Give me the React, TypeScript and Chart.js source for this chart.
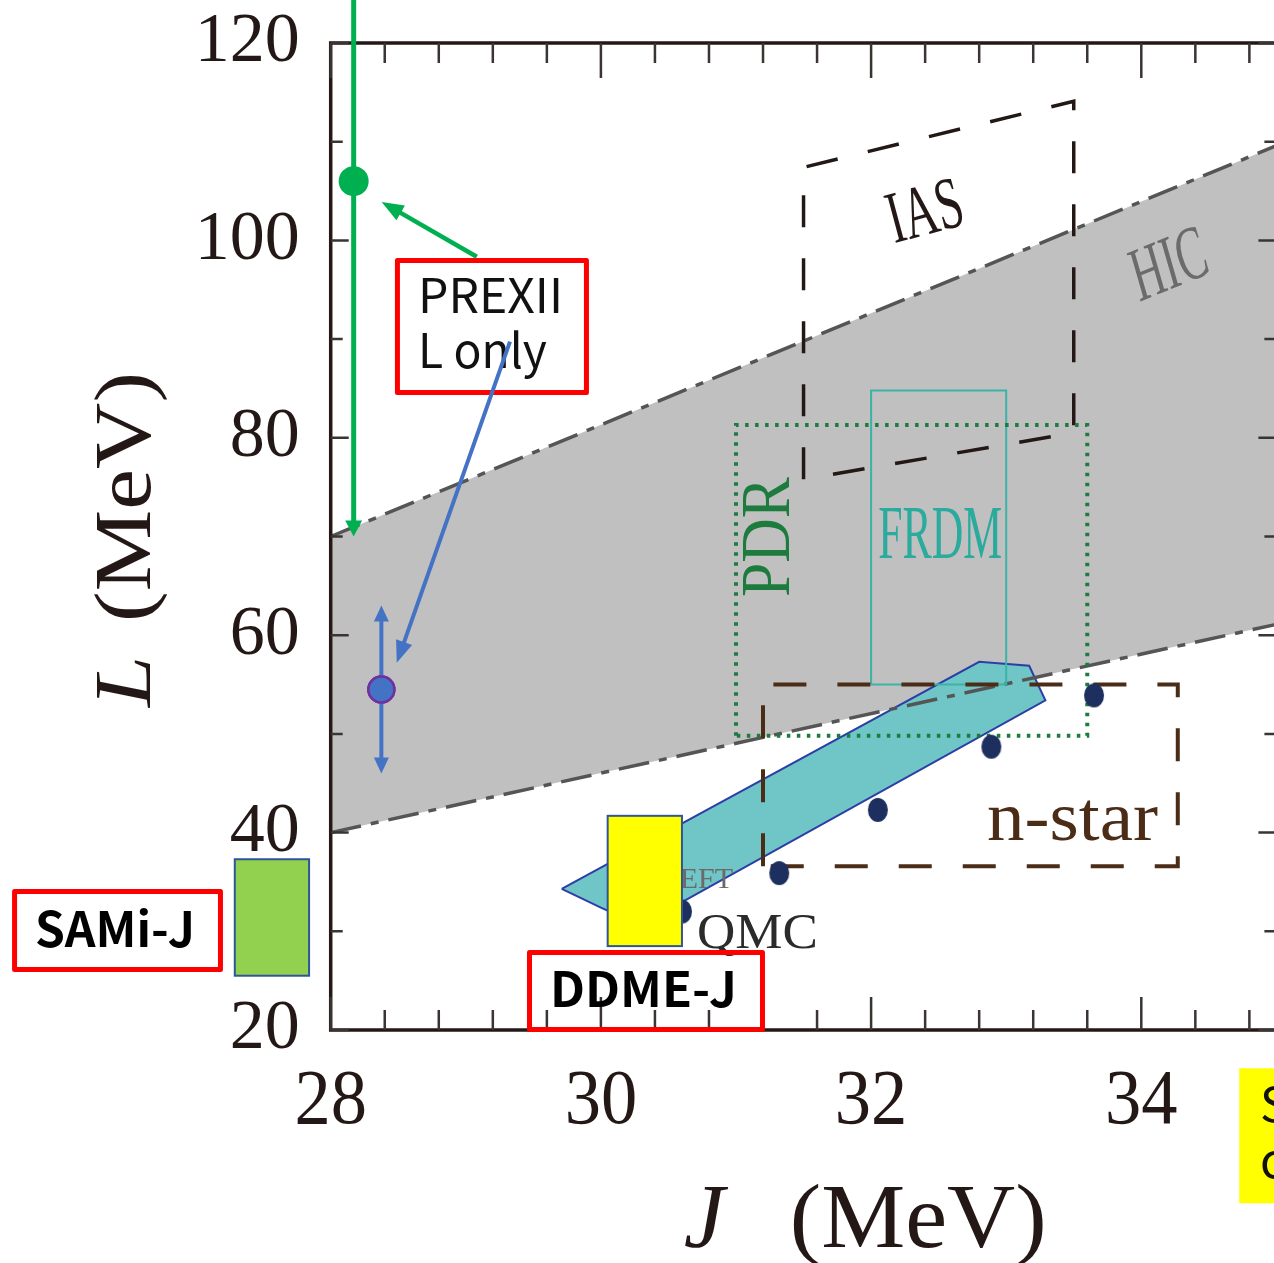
import React, { useEffect, useRef } from "react";
import { Chart, registerables } from "chart.js";

Chart.register(...registerables);

// ---------- axes ----------
const jRange = [28, 35];
const lRange = [20, 120];
const jTickLabels = [28, 30, 32, 34];
const lTickLabels = [20, 40, 60, 80, 100, 120];
const jMinorStep = 0.4;
const lMinorStep = 10;

// ---------- HIC band (dash-dot bounds) ----------
const hicJ = [28, 35];
const hicUpperL = [70.0, 109.6];
const hicLowerL = [40.0, 61.1];

// ---------- IAS (parallelogram) ----------
const iasJ = [31.5, 31.5, 33.5, 33.5, 31.5];
const iasL = [75.8, 107.4, 114.1, 80.5, 75.8];

// ---------- PDR ----------
const pdrJ = [31.0, 31.0, 33.6, 33.6, 31.0];
const pdrL = [49.8, 81.3, 81.3, 49.8, 49.8];

// ---------- FRDM ----------
const frdmJ = [32.0, 32.0, 33.0, 33.0, 32.0];
const frdmL = [55.0, 84.8, 84.8, 55.0, 55.0];

// ---------- neutron stars ----------
const nstarJ = [31.2, 31.2, 34.27, 34.27, 31.2];
const nstarL = [36.6, 55.0, 55.0, 36.6, 36.6];

// ---------- QMC points ----------
const qmcJ = [30.6, 31.32, 32.05, 32.89, 33.65];
const qmcL = [32.0, 35.9, 42.3, 48.7, 53.9];

// ---------- chiEFT band ----------
const eftJ = [29.71, 32.8, 33.17, 33.29, 30.29, 30.0, 29.71];
const eftL = [34.3, 57.3, 56.9, 53.4, 30.6, 32.4, 34.3];

// ---------- models ----------
const samiJ = [27.29, 27.84];
const samiL = [25.5, 37.3];
const ddmeJ = [30.05, 30.6];
const ddmeL = [28.5, 41.7];

// ---------- PREX-II ----------
const prexJ = [28.17];
const prexL = [106];
const prexLBounds = [70, 143];
const lOnlyJ = [28.375];
const lOnlyL = [54.5];
const lOnlyBounds = [46, 63];

// ---------- styling ----------
const SERIF = '"Liberation Serif", "Times New Roman", serif';
const SANS = '"Noto Sans CJK JP", "Noto Sans", sans-serif';
const AXIS_COLOR = "#231815";
const GREEN = "#00b050";
const BLUE = "#4472c4";
const RED = "#ff0000";
const HIC_DASH = [31, 10, 8, 10];

type TextItem = {
  text: string;
  j: number;
  l: number;
  size: number;
  family: string;
  color: string;
  style?: string;
  weight?: string;
  rotate?: number;
  width?: number;
  sx?: number;
  sy?: number;
  align?: CanvasTextAlign;
  baseline?: CanvasTextBaseline;
};

// labels placed inside the plot, in (J, L) coordinates
const plotTexts: TextItem[] = [
  { text: "IAS", j: 32.406, l: 102.6, size: 74, family: SERIF, color: "#231815", rotate: -15, width: 76, baseline: "middle" },
  { text: "HIC", j: 34.21, l: 97.2, size: 76, family: SERIF, style: "italic", color: "#6b6b6b", rotate: -22, width: 78, baseline: "middle" },
  { text: "PDR", j: 31.259, l: 69.95, size: 70, family: SERIF, color: "#1e7b3e", rotate: -90, width: 120, baseline: "middle" },
  { text: "FRDM", j: 32.511, l: 69.85, size: 76, family: SERIF, color: "#2aab9e", width: 124, baseline: "middle" },
  { text: "n-star", j: 33.491, l: 39.25, size: 70, family: SERIF, color: "#4b2c17", width: 171, baseline: "alphabetic" },
  { text: "QMC", j: 31.159, l: 28.31, size: 51, family: SERIF, color: "#2b2b2b", width: 121, baseline: "alphabetic" },
  { text: "χEFT", j: 30.978, l: 34.39, size: 30, family: SERIF, color: "#6a6a6a", align: "right", baseline: "alphabetic" },
];

// callout boxes (red frames) in (J, L) coordinates
const calloutBoxes = [
  { j0: 28.494, j1: 29.893, l0: 84.59, l1: 97.96 },
  { j0: 25.66, j1: 27.184, l0: 26.13, l1: 34.03 },
  { j0: 29.4715, j1: 31.196, l0: 20.05, l1: 27.85 },
];

const calloutTexts: TextItem[] = [
  { text: "PREXII", j: 28.646, l: 92.64, size: 48, family: SANS, color: "#111111", width: 145, align: "left" },
  { text: "L only", j: 28.646, l: 87.07, size: 48, family: SANS, color: "#111111", width: 129, align: "left" },
  { text: "SAMi-J", j: 26.403, l: 28.44, size: 48, family: SANS, weight: "700", color: "#000000", width: 160, align: "center" },
  { text: "DDME-J", j: 30.315, l: 22.36, size: 48, family: SANS, weight: "700", color: "#000000", width: 187, align: "center" },
];

// yellow note at the lower right
const noteBox = { j0: 34.725, j1: 35.6, l0: 2.44, l1: 16.12 };
const noteTexts: TextItem[] = [
  { text: "Symmetry energy", j: 34.879, l: 10.72, size: 48, family: SANS, color: "#111111", align: "left" },
  { text: "constraints", j: 34.879, l: 5.0, size: 48, family: SANS, color: "#111111", align: "left" },
];

// pointer arrows from callouts, in (J, L)
const pointerArrows = [
  { from: [29.081, 98.35], to: [28.377, 103.9], color: GREEN, width: 4.5 },
  { from: [29.327, 89.74], to: [28.489, 57.2], color: BLUE, width: 4 },
];

const pts = (js: number[], ls: number[]) => js.map((j, i) => ({ x: j, y: ls[i] }));

function fontOf(t: { size: number; family: string; style?: string; weight?: string }) {
  return `${t.style ?? "normal"} ${t.weight ?? "400"} ${t.size}px ${t.family}`;
}

function drawText(ctx: CanvasRenderingContext2D, t: TextItem, x: number, y: number) {
  ctx.save();
  ctx.font = fontOf(t);
  ctx.fillStyle = t.color;
  ctx.textAlign = t.align ?? "center";
  ctx.textBaseline = t.baseline ?? "alphabetic";
  ctx.translate(x, y);
  if (t.rotate) ctx.rotate((t.rotate * Math.PI) / 180);
  let sx = t.sx ?? 1;
  if (t.width) sx = t.width / ctx.measureText(t.text).width;
  ctx.scale(sx, t.sy ?? 1);
  ctx.fillText(t.text, 0, 0);
  ctx.restore();
}

function arrowHead(ctx: CanvasRenderingContext2D, x1: number, y1: number, x2: number, y2: number, len: number, wid: number, color: string) {
  const a = Math.atan2(y2 - y1, x2 - x1);
  ctx.save();
  ctx.translate(x2, y2);
  ctx.rotate(a);
  ctx.beginPath();
  ctx.moveTo(0, 0);
  ctx.lineTo(-len, wid / 2);
  ctx.lineTo(-len, -wid / 2);
  ctx.closePath();
  ctx.fillStyle = color;
  ctx.fill();
  ctx.restore();
}

function arrow(ctx: CanvasRenderingContext2D, x1: number, y1: number, x2: number, y2: number, color: string, width: number, len: number, wid: number) {
  const a = Math.atan2(y2 - y1, x2 - x1);
  ctx.save();
  ctx.strokeStyle = color;
  ctx.lineWidth = width;
  ctx.beginPath();
  ctx.moveTo(x1, y1);
  ctx.lineTo(x2 - Math.cos(a) * len * 0.7, y2 - Math.sin(a) * len * 0.7);
  ctx.stroke();
  ctx.restore();
  arrowHead(ctx, x1, y1, x2, y2, len, wid, color);
}

function ellipseSprite(rx: number, ry: number, color: string) {
  const c = document.createElement("canvas");
  c.width = Math.ceil(rx * 2) + 2;
  c.height = Math.ceil(ry * 2) + 2;
  const g = c.getContext("2d")!;
  g.fillStyle = color;
  g.beginPath();
  g.ellipse(c.width / 2, c.height / 2, rx, ry, 0, 0, Math.PI * 2);
  g.fill();
  return c;
}

const overlayPlugin = {
  id: "overlay",
  afterDatasetsDraw(chart: any) {
    const ctx: CanvasRenderingContext2D = chart.ctx;
    const xs = chart.scales.x;
    const ys = chart.scales.y;
    const X = (v: number) => xs.getPixelForValue(v);
    const Y = (v: number) => ys.getPixelForValue(v);
    const { left, right, top, bottom } = chart.chartArea;

    // in-plot labels
    plotTexts.forEach((t) => drawText(ctx, t, X(t.j), Y(t.l)));

    // model boxes
    const modelBox = (js: number[], ls: number[], fill: string) => {
      const x0 = X(js[0]);
      const x1 = X(js[1]);
      const y0 = Y(ls[1]);
      const y1 = Y(ls[0]);
      ctx.save();
      ctx.fillStyle = fill;
      ctx.fillRect(x0, y0, x1 - x0, y1 - y0);
      ctx.strokeStyle = "#2f5597";
      ctx.lineWidth = 2;
      ctx.strokeRect(x0, y0, x1 - x0, y1 - y0);
      ctx.restore();
    };
    modelBox(samiJ, samiL, "#92d050");
    modelBox(ddmeJ, ddmeL, "#ffff00");

    // frame
    ctx.save();
    ctx.strokeStyle = AXIS_COLOR;
    ctx.lineWidth = 3.5;
    ctx.strokeRect(left, top, right - left, bottom - top);
    ctx.restore();

    // ticks (inward on all four sides)
    ctx.save();
    ctx.strokeStyle = "#3a3432";
    ctx.lineWidth = 2.5;
    ctx.beginPath();
    const nJ = Math.round((jRange[1] - jRange[0]) / jMinorStep);
    for (let k = 0; k <= nJ; k++) {
      const v = jRange[0] + k * jMinorStep;
      if (v > jRange[1] + 1e-9) break;
      const major = jTickLabels.some((m) => Math.abs(m - v) < 1e-6);
      const px = X(v);
      ctx.moveTo(px, bottom);
      ctx.lineTo(px, bottom - (major ? 33 : 20));
      ctx.moveTo(px, top);
      ctx.lineTo(px, top + (major ? 35 : 20));
    }
    const nL = Math.round((lRange[1] - lRange[0]) / lMinorStep);
    for (let k = 0; k <= nL; k++) {
      const v = lRange[0] + k * lMinorStep;
      const major = lTickLabels.includes(v);
      const py = Y(v);
      ctx.moveTo(left, py);
      ctx.lineTo(left + (major ? 18 : 12), py);
      ctx.moveTo(right, py);
      ctx.lineTo(right - (major ? 18 : 12), py);
    }
    ctx.stroke();
    ctx.restore();

    // tick labels
    lTickLabels.forEach((v) =>
      drawText(ctx, { text: String(v), j: 0, l: 0, size: 70, family: SERIF, color: AXIS_COLOR, align: "right", baseline: "middle" }, left - 31, Y(v))
    );
    jTickLabels.forEach((v) =>
      drawText(ctx, { text: String(v), j: 0, l: 0, size: 78, family: SERIF, color: AXIS_COLOR, align: "center", baseline: "alphabetic", sx: 0.93 }, X(v), bottom + 93)
    );

    // axis titles
    drawText(ctx, { text: "J", j: 0, l: 0, size: 92, family: SERIF, style: "italic", color: AXIS_COLOR, align: "left" }, left + 353, bottom + 217);
    drawText(ctx, { text: "(MeV)", j: 0, l: 0, size: 92, family: SERIF, color: AXIS_COLOR, align: "left", width: 257 }, left + 459, bottom + 217);
    drawText(ctx, { text: "L", j: 0, l: 0, size: 92, family: SERIF, style: "italic", color: AXIS_COLOR, align: "left", rotate: -90, sy: 0.87 }, left - 181, top + 664);
    drawText(ctx, { text: "(MeV)", j: 0, l: 0, size: 92, family: SERIF, color: AXIS_COLOR, align: "left", rotate: -90, width: 250, sy: 0.87 }, left - 181, top + 579);

    // yellow note
    ctx.save();
    ctx.fillStyle = "#ffff00";
    ctx.fillRect(X(noteBox.j0), Y(noteBox.l1), X(noteBox.j1) - X(noteBox.j0), Y(noteBox.l0) - Y(noteBox.l1));
    ctx.restore();
    noteTexts.forEach((t) => drawText(ctx, t, X(t.j), Y(t.l)));

    // red callout frames
    calloutBoxes.forEach((b) => {
      ctx.save();
      ctx.strokeStyle = RED;
      ctx.lineWidth = 5;
      ctx.lineJoin = "round";
      ctx.strokeRect(X(b.j0), Y(b.l1), X(b.j1) - X(b.j0), Y(b.l0) - Y(b.l1));
      ctx.restore();
    });
    calloutTexts.forEach((t) => drawText(ctx, t, X(t.j), Y(t.l)));

    // PREX-II full range (green) and "L only" range (blue)
    arrow(ctx, X(prexJ[0]), Y(prexLBounds[1]), X(prexJ[0]), Y(prexLBounds[0]), GREEN, 5, 16, 17);
    const bx = X(lOnlyJ[0]);
    const by = Y(lOnlyL[0]);
    arrow(ctx, bx, by - 13, bx, Y(lOnlyBounds[1]), BLUE, 4, 16, 15);
    arrow(ctx, bx, by + 13, bx, Y(lOnlyBounds[0]), BLUE, 4, 16, 15);

    // pointer arrows
    pointerArrows.forEach((a) => arrow(ctx, X(a.from[0]), Y(a.from[1]), X(a.to[0]), Y(a.to[1]), a.color, a.width, 22, 17));

    // redraw the "L only" marker over its range arrows
    ctx.save();
    ctx.beginPath();
    ctx.arc(bx, by, 13, 0, Math.PI * 2);
    ctx.fillStyle = BLUE;
    ctx.fill();
    ctx.lineWidth = 2.5;
    ctx.strokeStyle = "#7030a0";
    ctx.stroke();
    ctx.restore();
  },
};

export default function App() {
  const ref = useRef<HTMLCanvasElement>(null);

  useEffect(() => {
    const canvas = ref.current;
    if (!canvas) return;
    const navyDot = ellipseSprite(10, 12, "#1d2f5e");
    const lineDs = (label: string, js: number[], ls: number[], extra: any) => ({
      label,
      data: pts(js, ls),
      pointRadius: 0,
      fill: false,
      tension: 0,
      borderJoinStyle: "miter",
      ...extra,
    });

    const chart = new Chart(canvas, {
      type: "line",
      data: {
        datasets: [
          lineDs("HIC upper", hicJ, hicUpperL, { borderColor: "#555555", borderWidth: 3.5, borderDash: HIC_DASH, fill: "+1", backgroundColor: "#c0c0c0", order: 20 }),
          lineDs("HIC lower", hicJ, hicLowerL, { borderColor: "#555555", borderWidth: 3.5, borderDash: HIC_DASH, order: 8 }),
          lineDs("χEFT", eftJ, eftL, { borderColor: "#2b3fa6", borderWidth: 2, backgroundColor: "#70c6c6", fill: "shape", order: 15 }),
          lineDs("IAS", iasJ, iasL, { borderColor: "#231815", borderWidth: 3.5, borderDash: [32, 31], order: 7 }),
          lineDs("FRDM", frdmJ, frdmL, { borderColor: "#3bb3a6", borderWidth: 2, order: 6 }),
          lineDs("PDR", pdrJ, pdrL, { borderColor: "#1e7b3e", borderWidth: 4, borderDash: [3.5, 6.5], borderCapStyle: "butt", order: 5 }),
          lineDs("n-star", nstarJ, nstarL, { borderColor: "#4b2c17", borderWidth: 4, borderDash: [33, 31], order: 4 }),
          { label: "QMC", data: pts(qmcJ, qmcL), showLine: false, pointStyle: navyDot, pointRadius: 12, order: 3 },
          { label: "PREX-II", data: pts(prexJ, prexL), showLine: false, pointRadius: 15, pointBackgroundColor: GREEN, pointBorderWidth: 0, order: 2 },
          { label: "PREX-II L only", data: pts(lOnlyJ, lOnlyL), showLine: false, pointRadius: 13, pointBackgroundColor: BLUE, pointBorderColor: "#7030a0", pointBorderWidth: 2.5, order: 1 },
        ],
      },
      options: {
        responsive: false,
        animation: false,
        devicePixelRatio: 1,
        events: [],
        layout: { autoPadding: false, padding: { left: 330.7, top: 43, right: 5.6, bottom: 233 } },
        scales: {
          x: { type: "linear", min: jRange[0], max: jRange[1], display: false },
          y: { type: "linear", min: lRange[0], max: lRange[1], display: false },
        },
        plugins: { legend: { display: false }, tooltip: { enabled: false }, title: { display: false } },
      },
      plugins: [overlayPlugin],
    } as any);

    let alive = true;
    const fonts = [
      `70px ${SERIF}`,
      `italic 70px ${SERIF}`,
      `48px ${SANS}`,
      `bold 48px ${SANS}`,
    ];
    if ((document as any).fonts) {
      Promise.all(fonts.map((f) => (document as any).fonts.load(f)))
        .then(() => {
          if (alive) chart.draw();
        })
        .catch(() => {});
    }
    return () => {
      alive = false;
      chart.destroy();
    };
  }, []);

  return (
    <div style={{ position: "fixed", left: 0, top: 0, width: 1274, height: 1263, overflow: "hidden", background: "#ffffff" }}>
      <canvas ref={ref} width={1282} height={1263} style={{ width: 1282, height: 1263, display: "block" }} />
    </div>
  );
}
